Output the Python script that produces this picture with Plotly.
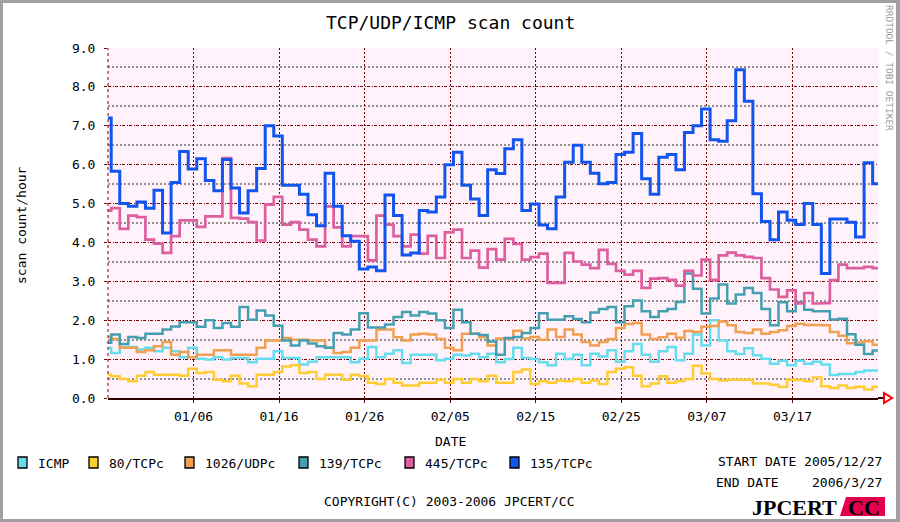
import pandas as pd
import plotly.graph_objects as go

# ---------------- data ----------------
series_names = ["ICMP", "80/TCPc", "1026/UDPc", "139/TCPc", "445/TCPc", "135/TCPc"]
series_colors = ["#66DDEE", "#FFCC33", "#F0A050", "#44A0B0", "#DD5FA0", "#1155EE"]
first_step = "2005-12-26 09:00"   # daily steps (local 09:00 boundaries)
start_date = "2005-12-27"
end_date = "2006-03-27"
tick_start = "2006-01-06"
tick_count = 8

icmp = [1.29, 1.16, 1.31, 1.31, 1.25, 1.29, 1.2, 1.29, 1.2, 1.05,
        1.29, 1.01, 0.99, 1.05, 0.99, 1.03, 1.03, 0.92, 1.01, 1.01,
        1.2, 1.03, 1.03, 0.86, 0.93, 1.05, 1.05, 1.05, 1.05, 0.92,
        1.01, 1.31, 1.05, 1.14, 1.23, 0.9, 1.11, 1.11, 1.11, 0.97,
        1.01, 1.11, 1.09, 1.14, 1.05, 1.14, 0.92, 1.0, 1.29, 1.03,
        1.0, 0.92, 0.84, 1.14, 1.0, 1.11, 0.84, 1.14, 1.07, 1.23,
        0.93, 1.2, 1.39, 1.11, 0.93, 1.2, 1.31, 0.97, 1.14, 1.63,
        1.35, 2.0, 1.48, 1.2, 1.13, 1.28, 1.1, 1.01, 0.88, 0.96,
        0.84, 0.96, 0.88, 0.93, 0.86, 0.59, 0.62, 0.62, 0.67, 0.71,
        0.71]
tcp80 = [0.6, 0.56, 0.49, 0.43, 0.57, 0.67, 0.6, 0.6, 0.6, 0.57,
         0.75, 0.64, 0.67, 0.47, 0.43, 0.57, 0.37, 0.3, 0.6, 0.6,
         0.67, 0.81, 0.84, 0.64, 0.67, 0.49, 0.6, 0.6, 0.47, 0.6,
         0.56, 0.39, 0.36, 0.49, 0.39, 0.32, 0.32, 0.39, 0.39, 0.47,
         0.39, 0.49, 0.39, 0.49, 0.43, 0.57, 0.39, 0.39, 0.67, 0.73,
         0.36, 0.43, 0.39, 0.45, 0.43, 0.49, 0.39, 0.45, 0.36, 0.67,
         0.75, 0.79, 0.57, 0.3, 0.37, 0.56, 0.39, 0.44, 0.49, 0.83,
         0.63, 0.49, 0.45, 0.47, 0.47, 0.47, 0.37, 0.37, 0.34, 0.28,
         0.47, 0.46, 0.43, 0.53, 0.3, 0.26, 0.32, 0.26, 0.29, 0.22,
         0.29]
udp1026 = [1.57, 1.52, 1.29, 1.29, 1.18, 1.23, 1.33, 1.44, 1.11, 1.18,
           1.05, 1.11, 1.11, 1.23, 1.23, 1.11, 1.11, 1.11, 1.29, 1.48,
           1.48, 1.54, 1.5, 1.5, 1.48, 1.48, 1.29, 1.16, 1.18, 1.29,
           1.48, 1.48, 1.76, 1.76, 1.56, 1.48, 1.63, 1.65, 1.63, 1.52,
           1.29, 1.23, 1.65, 1.65, 1.56, 1.35, 1.53, 1.52, 1.73, 1.53,
           1.57, 1.5, 1.76, 1.57, 1.76, 1.63, 1.44, 1.35, 1.44, 1.52,
           1.8, 1.9, 1.93, 1.63, 1.52, 1.56, 1.65, 1.55, 1.72, 1.7,
           1.83, 1.85, 1.97, 1.87, 1.7, 1.67, 1.76, 1.65, 1.7, 1.74,
           1.85, 1.91, 1.88, 1.88, 1.87, 1.7, 1.6, 1.41, 1.43, 1.46,
           1.37]
tcp139 = [1.42, 1.63, 1.39, 1.57, 1.54, 1.65, 1.65, 1.76, 1.84, 1.95,
          1.95, 1.83, 2.0, 1.8, 1.93, 1.83, 2.34, 2.01, 2.25, 2.12,
          1.86, 1.48, 1.35, 1.48, 1.4, 1.33, 1.29, 1.67, 1.63, 1.76,
          2.18, 1.81, 1.81, 1.89, 2.08, 2.21, 2.12, 2.21, 2.17, 2.0,
          1.8, 2.27, 1.95, 1.65, 1.62, 1.45, 1.11, 1.54, 1.57, 1.67,
          1.8, 2.18, 2.01, 2.01, 2.1, 2.03, 1.95, 2.2, 2.29, 2.34,
          1.95, 2.36, 2.51, 2.23, 2.08, 2.23, 2.29, 2.47, 3.2, 2.81,
          2.17, 2.56, 2.92, 2.43, 2.66, 2.83, 2.7, 2.29, 1.87, 2.46,
          2.23, 2.46, 2.27, 2.23, 2.23, 2.02, 2.04, 1.64, 1.37, 1.13,
          1.22]
tcp445 = [4.82, 4.88, 4.35, 4.69, 4.65, 4.07, 3.97, 3.73, 4.16, 4.57,
          4.57, 4.4, 4.67, 4.67, 6.17, 4.63, 4.61, 4.52, 4.05, 4.97,
          5.17, 4.46, 4.52, 4.33, 4.07, 3.9, 4.93, 4.39, 3.9, 4.16,
          4.16, 3.54, 4.69, 4.46, 4.16, 3.9, 4.2, 3.71, 4.17, 3.6,
          4.26, 4.33, 3.6, 3.79, 3.35, 3.83, 3.56, 4.09, 3.96, 3.56,
          3.62, 3.71, 2.96, 2.96, 3.73, 3.51, 3.43, 3.34, 3.81, 3.45,
          3.27, 3.17, 3.27, 2.83, 3.07, 3.08, 3.04, 2.89, 3.27, 3.15,
          3.56, 3.04, 3.67, 3.74, 3.67, 3.63, 3.6, 3.08, 2.79, 2.6,
          2.77, 2.43, 2.7, 2.43, 2.44, 3.03, 3.43, 3.34, 3.34, 3.37,
          3.34]
tcp135 = [7.2, 5.83, 5.0, 4.93, 5.04, 4.88, 5.34, 4.24, 5.54, 6.34,
          5.89, 6.15, 5.59, 5.33, 6.13, 5.4, 4.76, 5.33, 5.9, 7.0,
          6.74, 5.47, 5.47, 5.24, 4.71, 4.43, 5.78, 4.93, 4.17, 4.03,
          3.32, 3.37, 3.27, 5.22, 4.69, 3.68, 3.73, 4.82, 4.78, 5.17,
          6.0, 6.32, 5.47, 5.12, 4.69, 5.87, 5.77, 6.41, 6.64, 4.82,
          4.99, 4.45, 4.35, 5.17, 6.06, 6.5, 6.06, 5.78, 5.51, 5.54,
          6.26, 6.32, 6.8, 5.64, 5.24, 6.19, 6.26, 5.87, 6.83, 7.0,
          7.43, 6.64, 6.6, 7.13, 8.44, 7.63, 5.25, 4.54, 4.07, 4.78,
          4.57, 4.46, 5.0, 4.46, 3.2, 4.6, 4.6, 4.52, 4.14, 6.05,
          5.51]
series_values = [icmp, tcp80, udp1026, tcp139, tcp445, tcp135]
line_widths = [2.5, 2.5, 2.5, 2.5, 2.7, 3.0]

y_title = "scan count/hour"
x_title = "DATE"
title = "TCP/UDP/ICMP scan count"
start_text = "START DATE 2005/12/27"
end_label = "END DATE"
end_value = "2006/3/27"
copyright_text = "COPYRIGHT(C) 2003-2006 JPCERT/CC"
side_text = "RRDTOOL / TOBI OETIKER"

# ---------------- geometry helpers ----------------
W, H = 900, 522
L, R, T, B = 108, 22, 48, 124
PW, PH = W - L - R, H - T - B


def px(x):
    return (x - L) / PW


def py(y):
    return (H - B - y) / PH


MONO = "DejaVu Sans Mono"
SERIF = "Liberation Serif"

steps = pd.date_range(first_step, periods=len(tcp135) + 1, freq="D")
ticks = pd.date_range(tick_start, periods=tick_count, freq="10D")

fig = go.Figure()
for name, color, vals, lw in zip(series_names, series_colors, series_values, line_widths):
    fig.add_trace(go.Scatter(
        x=steps, y=list(vals) + [vals[-1]], mode="lines", name=name,
        line=dict(color=color, width=lw, shape="hv"),
        showlegend=False, hoverinfo="skip"))

annotations = []
shapes = []


def text(x, y, s, size=13, xanchor="center", angle=0, color="#000000", family=MONO):
    annotations.append(dict(
        x=px(x), y=py(y), xref="paper", yref="paper", text=s, showarrow=False,
        xanchor=xanchor, yanchor="middle", textangle=angle,
        font=dict(family=family, size=size, color=color)))


text(450, 22, title, size=18)
text(21, 225, y_title, size=13, angle=-90)
text(450, 441, x_title, size=13)
text(890, 68, side_text, size=9.5, angle=90, color="#999999")
text(884, 461, start_text, size=13, xanchor="right")
text(714, 482, end_label, size=13, xanchor="left")
text(884, 482, end_value, size=13, xanchor="right")
text(449, 501, copyright_text, size=13)

# legend
sw_x = [18, 89, 185, 299, 405, 510]
for x0, name, color in zip(sw_x, series_names, series_colors):
    shapes.append(dict(type="rect", xref="paper", yref="paper",
                       x0=px(x0), x1=px(x0 + 9), y0=py(468), y1=py(457),
                       fillcolor=color, line=dict(color="#000000", width=1.3)))
    text(x0 + 18, 463, name, size=13, xanchor="left")

# JPCERT/CC logo
shapes.append(dict(type="path", xref="paper", yref="paper",
                   path=f"M {px(846)},{py(497)} L {px(885)},{py(497)} L {px(885)},{py(516)} "
                        f"L {px(840)},{py(516)} Z",
                   fillcolor="#E2004F", line=dict(width=0)))
text(839, 507, "<b>JPCERT</b>", size=22, xanchor="right", family=SERIF)
text(864, 507, "<b>CC</b>", size=22, family=SERIF)

# left axis edge (dotted)
shapes.append(dict(type="line", xref="paper", yref="paper", x0=0, x1=0, y0=0, y1=1,
                   line=dict(color="#800000", width=1, dash="dot")))
# x-axis arrow
shapes.append(dict(type="line", xref="paper", yref="paper", x0=px(878), x1=px(884),
                   y0=py(398), y1=py(398), line=dict(color="#300000", width=2)))
shapes.append(dict(type="path", xref="paper", yref="paper",
                   path=f"M {px(884)},{py(393)} L {px(884)},{py(403)} L {px(892)},{py(398)} Z",
                   fillcolor="rgba(0,0,0,0)", line=dict(color="#FF0000", width=2)))
# outer frame
for x0, y0, x1, y1 in [(0, 0, 900, 3), (0, 519, 900, 522), (0, 0, 3, 522), (896, 0, 900, 522)]:
    shapes.append(dict(type="rect", xref="paper", yref="paper",
                       x0=px(x0), x1=px(x1), y0=py(y1), y1=py(y0),
                       fillcolor="#A0A0A0", line=dict(width=0)))

fig.update_layout(
    width=W, height=H,
    margin=dict(l=L, r=R, t=T, b=B, autoexpand=False),
    paper_bgcolor="#FFFFFF", plot_bgcolor="#FFF2FB",
    showlegend=False, hovermode=False,
    font=dict(family=MONO, size=13, color="#000000"),
    xaxis=dict(type="date", range=[start_date, end_date],
               tickmode="array", tickvals=list(ticks), ticktext=[d.strftime("%m/%d") for d in ticks],
               ticks="outside", ticklen=3, tickcolor="#800000",
               showgrid=True, gridcolor="#800000", gridwidth=1, griddash="2px,2px",
               showline=True, linecolor="#300000", linewidth=2,
               zeroline=False, tickfont=dict(size=13, family=MONO),
               ticklabelstandoff=2, fixedrange=True),
    yaxis=dict(range=[0, 9], dtick=1, tick0=0, tickformat=".1f",
               ticks="outside", ticklen=3, tickcolor="#800000",
               showgrid=True, gridcolor="#800000", gridwidth=1, griddash="3px,1.5px,1px,1.5px",
               minor=dict(dtick=0.5, showgrid=True, gridcolor="#909090", gridwidth=2,
                          griddash="2px,2px", ticks=""),
               showline=False, zeroline=False,
               tickfont=dict(size=13, family=MONO), ticklabelstandoff=6, fixedrange=True),
    yaxis2=dict(range=[0, 9], dtick=1, overlaying="y", side="right",
                showline=True, linecolor="#A0A0A0", linewidth=1.5,
                ticks="outside", ticklen=5, tickcolor="#800000",
                showticklabels=False, showgrid=False, zeroline=False, fixedrange=True),
    annotations=annotations, shapes=shapes,
)

fig.write_html("out.html", config={"displayModeBar": False})

# remove the browser's default page margin so the figure sits at the window origin
with open("out.html", encoding="utf-8") as fh:
    page = fh.read()
page = page.replace("<head>", "<head><style>html,body{margin:0;padding:0;overflow:hidden}</style>", 1)
with open("out.html", "w", encoding="utf-8") as fh:
    fh.write(page)
